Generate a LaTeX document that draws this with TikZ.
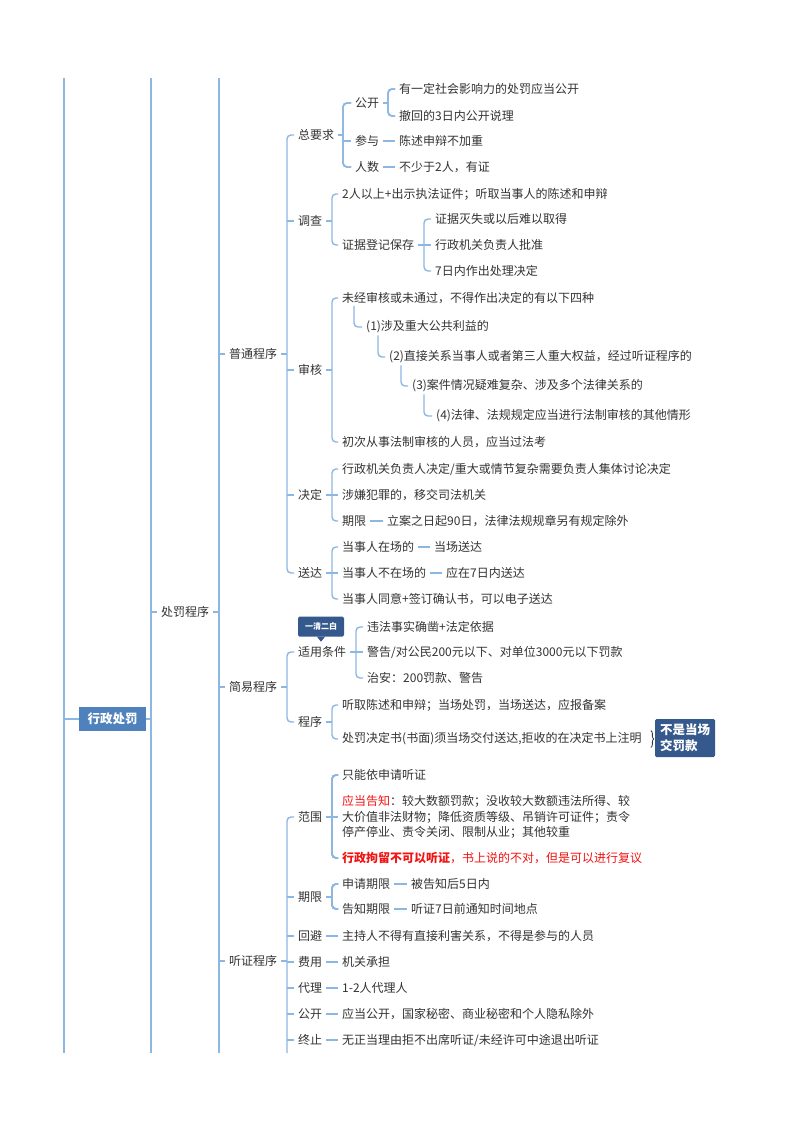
\documentclass[tikz,border=0pt]{standalone}
\usepackage{fontspec}
\setmainfont{Noto Sans CJK SC}
\usepackage{xcolor}
\usepackage{tikz}
\usetikzlibrary{positioning, calc, decorations.pathreplacing}

\definecolor{lineblue}{HTML}{8DB7E3}
\definecolor{txtgray}{HTML}{333333}
\definecolor{rootblue}{HTML}{4F81BD}
\definecolor{tagblue}{HTML}{36598D}
\definecolor{notered}{HTML}{F01414}

\tikzset{
  item/.style={anchor=west, inner xsep=4pt, inner ysep=2pt, text=txtgray,
    font=\fontsize{12}{15.5}\selectfont},
  link/.style={draw=lineblue, line width=1.4pt, rounded corners=4pt},
  trunk/.style={draw=lineblue, line width=1.6pt},
  rootbox/.style={fill=rootblue, text=white, inner sep=0pt,
    minimum width=67pt, minimum height=24pt,
    font=\fontsize{12.5}{15}\selectfont\bfseries},
  tagbox/.style={fill=tagblue, text=white, rounded corners=1.5pt, inner sep=0pt,
    minimum width=46pt, minimum height=20pt,
    font=\fontsize{8}{10}\selectfont\bfseries},
  notebox/.style={fill=tagblue, text=white, rounded corners=1.5pt, inner sep=3pt,
    align=left, minimum width=60pt, minimum height=38pt,
    font=\fontsize{12.5}{16}\selectfont\bfseries},
}

% parent, bracket x, first child, last child
\newcommand{\forkto}[4]{%
  \draw[link] (#1.east) -- (#2,0 |- #1.east);
  \draw[link] (#3.west) -| (#2,0 |- #1.east) |- (#4.west);}
% bracket x, child
\newcommand{\midtick}[2]{\draw[link] (#1,0 |- #2.west) -- (#2.west);}

\begin{document}
\begin{tikzpicture}[x=1pt, y=-1pt]
    % Page
    \fill[white] (0,0) rectangle (800,1132);

    % Trunk lines running off the page
    \coordinate (t1a) at (64,78);   \coordinate (t1b) at (64,1053);
    \coordinate (t2a) at (151,78);  \coordinate (t2b) at (151,1053);
    \coordinate (t3a) at (219,78);  \coordinate (t3b) at (219,1053);
    \coordinate (tzend) at (287,1053);

    % Main topics
    \node[rootbox] (xzcf) at (112.5,719) {行政处罚};
    \node[item] (cfcx) at (157,612) {处罚程序};
    \node[item] (ptcx) at (225,354) {普通程序};
    \node[item] (jycx) at (225,687) {简易程序};
    \node[item] (tzcx) at (225,961) {听证程序};

    % Ordinary procedure
    \node[item] (zyq) at (294,135) {总要求};
    \node[item] (dc) at (294,221) {调查};
    \node[item] (sh) at (294,370) {审核};
    \node[item] (jd) at (294,495) {决定};
    \node[item] (sd) at (294,573) {送达};

    \node[item] (gk) at (351,103) {公开};
    \node[item] (cy) at (351,141) {参与};
    \node[item] (rs) at (351,167) {人数};
    \node[item] (gk1) at (395,89) {有一定社会影响力的处罚应当公开};
    \node[item] (gk2) at (395,116) {撤回的3日内公开说理};
    \node[item] (cy1) at (395,141) {陈述申辩不加重};
    \node[item] (rs1) at (395,167) {不少于2人，有证};

    \node[item] (dc1) at (338,194) {2人以上+出示执法证件；听取当事人的陈述和申辩};
    \node[item] (zj) at (338,245) {证据登记保存};
    \node[item] (zj1) at (431,219) {证据灭失或以后难以取得};
    \node[item] (zj2) at (431,245) {行政机关负责人批准};
    \node[item] (zj3) at (431,271) {7日内作出处理决定};

    \node[item] (wj) at (338,298) {未经审核或未通过，不得作出决定的有以下四种};
    \node[item] (wj1) at (362,327) {(1)涉及重大公共利益的};
    \node[item] (wj2) at (385,357) {(2)直接关系当事人或者第三人重大权益，经过听证程序的};
    \node[item] (wj3) at (408,386) {(3)案件情况疑难复杂、涉及多个法律关系的};
    \node[item] (wj4) at (432,416) {(4)法律、法规规定应当进行法制审核的其他情形};
    \node[item] (cc) at (338,442) {初次从事法制审核的人员，应当过法考};

    \node[item] (jd1) at (338,469) {行政机关负责人决定/重大或情节复杂需要负责人集体讨论决定};
    \node[item] (jd2) at (338,495) {涉嫌犯罪的，移交司法机关};
    \node[item] (jd3) at (338,521) {期限};
    \node[item] (jd3a) at (383,521) {立案之日起90日，法律法规规章另有规定除外};

    \node[item] (sd1) at (338,547) {当事人在场的};
    \node[item] (sd1a) at (430,547) {当场送达};
    \node[item] (sd2) at (338,573) {当事人不在场的};
    \node[item] (sd2a) at (442,573) {应在7日内送达};
    \node[item] (sd3) at (338,599) {当事人同意+签订确认书，可以电子送达};

    % Simple procedure
    \node[item] (sytj) at (294,652) {适用条件};
    \node[tagbox] (yqeb) at (321,626.5) {一清二白};
    \node[item] (sy1) at (363,627) {违法事实确凿+法定依据};
    \node[item] (sy2) at (363,652) {警告/对公民200元以下、对单位3000元以下罚款};
    \node[item] (sy3) at (363,678) {治安：200罚款、警告};
    \node[item] (cx) at (294,722) {程序};
    \node[item] (cx1) at (338,705) {听取陈述和申辩；当场处罚，当场送达，应报备案};
    \node[item] (cx2) at (338,739) {处罚决定书(书面)须当场交付送达,拒收的在决定书上注明};
    \node[notebox] (bsdc) at (685,738) {不是当场\\交罚款};

    % Hearing procedure
    \node[item] (fw) at (294,817) {范围};
    \node[item] (fw1) at (338,775) {只能依申请听证};
    \node[item, align=left] (fw2) at (338,817) {{\color{notered}应当告知}：较大数额罚款；没收较大数额违法所得、较\\大价值非法财物；降低资质等级、吊销许可证件；责令\\停产停业、责令关闭、限制从业；其他较重};
    \node[item, text=notered] (fw3) at (338,858) {\textbf{行政拘留不可以听证}，书上说的不对，但是可以进行复议};
    \node[item] (qx) at (294,897) {期限};
    \node[item] (qx1) at (338,884) {申请期限};
    \node[item] (qx1a) at (407,884) {被告知后5日内};
    \node[item] (qx2) at (338,909) {告知期限};
    \node[item] (qx2a) at (407,909) {听证7日前通知时间地点};
    \node[item] (hb) at (294,936) {回避};
    \node[item] (hb1) at (338,936) {主持人不得有直接利害关系，不得是参与的人员};
    \node[item] (fy) at (294,962) {费用};
    \node[item] (fy1) at (338,962) {机关承担};
    \node[item] (dl) at (294,988) {代理};
    \node[item] (dl1) at (338,988) {1-2人代理人};
    \node[item] (gkz) at (294,1014) {公开};
    \node[item] (gkz1) at (338,1014) {应当公开，国家秘密、商业秘密和个人隐私除外};
    \node[item] (zz) at (294,1040) {终止};
    \node[item] (zz1) at (338,1040) {无正当理由拒不出席听证/未经许可中途退出听证};

    % Trunks
    \draw[trunk] (t1a) -- (t1b);
    \draw[trunk] (t2a) -- (t2b);
    \draw[trunk] (t3a) -- (t3b);
    \draw[trunk] (64,0 |- xzcf.west) -- (xzcf.west);
    \draw[trunk] (xzcf.east) -- (151,0 |- xzcf.east);
    \draw[trunk] (151,0 |- cfcx.west) -- (cfcx.west);
    \draw[trunk] (cfcx.east) -- (219,0 |- cfcx.east);
    \foreach \n in {ptcx,jycx,tzcx} \draw[trunk] (219,0 |- \n.west) -- (\n.west);

    % Ordinary procedure links
    \forkto{ptcx}{287}{zyq}{sd}
    \foreach \n in {dc,sh,jd} \midtick{287}{\n}
    \forkto{zyq}{343}{gk}{rs}
    \midtick{343}{cy}
    \forkto{gk}{388}{gk1}{gk2}
    \draw[link] (cy.east) -- (cy1.west);
    \draw[link] (rs.east) -- (rs1.west);
    \forkto{dc}{332}{dc1}{zj}
    \forkto{zj}{424}{zj1}{zj3}
    \midtick{424}{zj2}
    \forkto{sh}{332}{wj}{cc}
    \draw[link] ([xshift=16pt]wj.south west) |- (wj1.west);
    \draw[link] ([xshift=16pt]wj1.south west) |- (wj2.west);
    \draw[link] ([xshift=16pt]wj2.south west) |- (wj3.west);
    \draw[link] ([xshift=16pt]wj3.south west) |- (wj4.west);
    \forkto{jd}{332}{jd1}{jd3}
    \midtick{332}{jd2}
    \draw[link] (jd3.east) -- (jd3a.west);
    \forkto{sd}{332}{sd1}{sd3}
    \midtick{332}{sd2}
    \draw[link] (sd1.east) -- (sd1a.west);
    \draw[link] (sd2.east) -- (sd2a.west);

    % Simple procedure links
    \forkto{jycx}{287}{sytj}{cx}
    \forkto{sytj}{356}{sy1}{sy3}
    \midtick{356}{sy2}
    \forkto{cx}{332}{cx1}{cx2}
    \fill[tagblue] ([xshift=-4pt]yqeb.south) -- ([yshift=-5pt]yqeb.south) -- ([xshift=4pt]yqeb.south) -- cycle;
    \draw[txtgray, line width=0.8pt, decorate, decoration={brace, amplitude=3pt}]
      ([xshift=5pt]cx2.north east) -- ([xshift=5pt]cx2.south east);

    % Hearing procedure links
    \draw[link] (tzcx.east) -- (287,0 |- tzcx.east);
    \draw[link] (fw.west) -| (tzend);
    \foreach \n in {qx,hb,fy,dl,gkz,zz} \midtick{287}{\n}
    \forkto{fw}{332}{fw1}{fw3}
    \midtick{332}{fw2}
    \forkto{qx}{332}{qx1}{qx2}
    \draw[link] (qx1.east) -- (qx1a.west);
    \draw[link] (qx2.east) -- (qx2a.west);
    \draw[link] (hb.east) -- (hb1.west);
    \draw[link] (fy.east) -- (fy1.west);
    \draw[link] (dl.east) -- (dl1.west);
    \draw[link] (gkz.east) -- (gkz1.west);
    \draw[link] (zz.east) -- (zz1.west);
\end{tikzpicture}
\end{document}
